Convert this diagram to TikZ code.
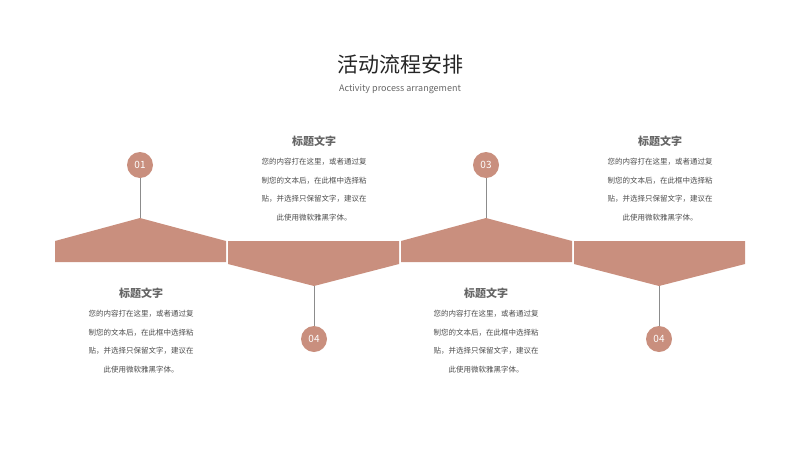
\documentclass[tikz,border=0pt]{standalone}
\usepackage{fontspec}
\setmainfont{Noto Sans CJK SC}
\usetikzlibrary{positioning}
\definecolor{clay}{HTML}{C98F7E}
\tikzstyle{num} = [circle, fill=clay, text=white, minimum size=26pt, inner sep=0pt, font=\fontsize{10}{10}\selectfont]
\tikzstyle{head} = [text=black!60, font=\fontsize{11}{11}\selectfont\bfseries]
\tikzstyle{body} = [text=black!70, align=center, font=\fontsize{7.5}{18.7}\selectfont, inner sep=0pt]
\tikzstyle{stem} = [draw=black!45, line width=0.8pt]
\begin{document}
\begin{tikzpicture}[x=1pt,y=-1pt]
\useasboundingbox (0,0) rectangle (800,450);

\node (title) at (400,64) [font=\fontsize{21}{21}\selectfont, text=black!85] {活动流程安排};
\node (sub) at (400,89) [font=\fontsize{9}{9}\selectfont, text=black!60] {Activity process arrangement};

% band
\fill[clay] (55,262) -- (55,241) -- (140,218) -- (226,241) -- (226,262) -- cycle;
\fill[clay] (228,241) -- (399,241) -- (399,264) -- (314,286) -- (228,264) -- cycle;
\fill[clay] (401,262) -- (401,241) -- (486,218) -- (572,241) -- (572,262) -- cycle;
\fill[clay] (574,241) -- (745,241) -- (745,264) -- (659,286) -- (574,264) -- cycle;
\coordinate (p1) at (140,218);
\coordinate (p2) at (314,286);
\coordinate (p3) at (486,218);
\coordinate (p4) at (659,286);

\node (n1) at (140,165) [num] {01};
\node (n2) at (314,339) [num] {04};
\node (n3) at (486,165) [num] {03};
\node (n4) at (659,339) [num] {04};
\draw [stem] (n1) -- (p1);
\draw [stem] (n2) -- (p2);
\draw [stem] (n3) -- (p3);
\draw [stem] (n4) -- (p4);

\node (h2) at (314,141) [head] {标题文字};
\node (t2) [body, below=8pt of h2] {您的内容打在这里，或者通过复\\制您的文本后，在此框中选择粘\\贴，并选择只保留文字，建议在\\此使用微软雅黑字体。};
\node (h4) at (660,141) [head] {标题文字};
\node (t4) [body, below=8pt of h4] {您的内容打在这里，或者通过复\\制您的文本后，在此框中选择粘\\贴，并选择只保留文字，建议在\\此使用微软雅黑字体。};
\node (h1) at (141,293) [head] {标题文字};
\node (t1) [body, below=8pt of h1] {您的内容打在这里，或者通过复\\制您的文本后，在此框中选择粘\\贴，并选择只保留文字，建议在\\此使用微软雅黑字体。};
\node (h3) at (486,293) [head] {标题文字};
\node (t3) [body, below=8pt of h3] {您的内容打在这里，或者通过复\\制您的文本后，在此框中选择粘\\贴，并选择只保留文字，建议在\\此使用微软雅黑字体。};

\end{tikzpicture}
\end{document}
